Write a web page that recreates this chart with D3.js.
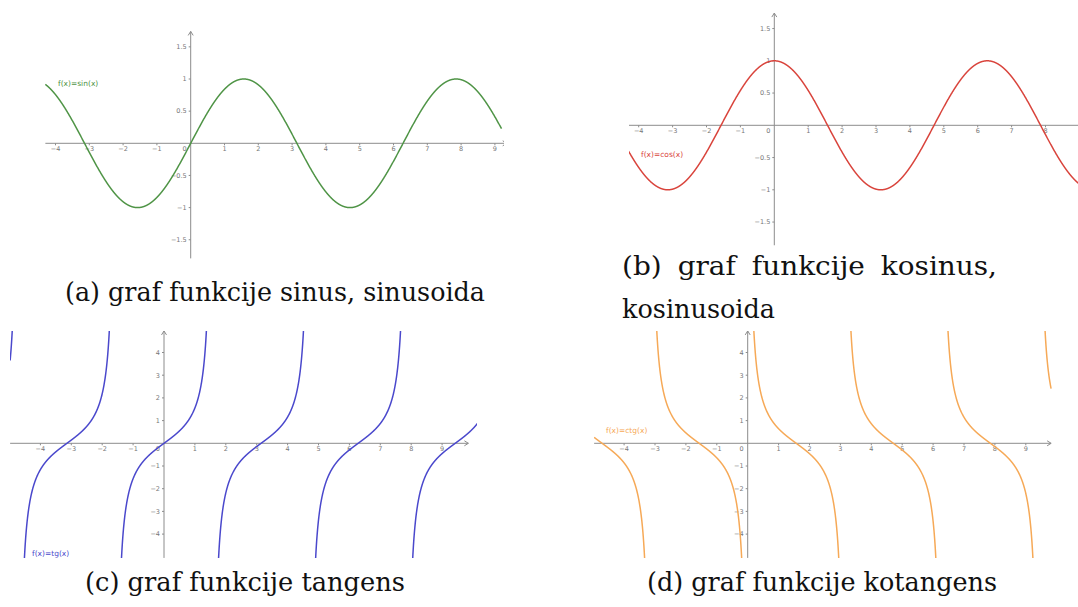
<!DOCTYPE html>
<html>
<head>
<meta charset="utf-8">
<script src="https://cdn.jsdelivr.net/npm/d3@7"></script>
<style>
  body { margin: 0; background: #fff; }
  svg { display: block; }
  .tick-label { font-family: 'DejaVu Sans', sans-serif; font-size: 6.5px; fill: #777; }
  .fn-label { font-family: 'DejaVu Sans', sans-serif; font-size: 7.5px; }
  .caption { font-family: 'DejaVu Serif', serif; font-size: 26px; fill: #111; }
</style>
</head>
<body>
<div id="chart"></div>
<script>
// data
const fnLabels = ['f(x)=sin(x)', 'f(x)=cos(x)', 'f(x)=tg(x)', 'f(x)=ctg(x)']
const fns = [Math.sin, Math.cos, Math.tan, (x) => 1 / Math.tan(x)]
const xTicks = [-4, -3, -2, -1, 1, 2, 3, 4, 5, 6, 7, 8, 9]
const yTicksTrig = [-1.5, -1, -0.5, 0.5, 1, 1.5]
const yTicksTan = [-4, -3, -2, -1, 1, 2, 3, 4]
const colors = ['#4f9446', '#d9443c', '#4a48cc', '#f6a957']

const width = 1078
const height = 607

// layout of each GeoGebra panel (pixel placement only)
const panels = [
  { ox: 190.7, oy: 143.3, ux: 33.8, uy: 64.3, ax: [-4.3, 9.35], ay: [-1.79, 1.74],
    cx: [-4.3, 9.2], clip: [45, 20, 459, 245], yTicks: yTicksTrig, labelPos: [58, 86] },
  { ox: 774.3, oy: 125.3, ux: 33.9, uy: 64.5, ax: [-4.3, 9.2], ay: [-1.86, 1.74],
    cx: [-4.3, 9.2], clip: [629, 0, 449, 250], yTicks: yTicksTrig, labelPos: [641, 157] },
  { ox: 164, oy: 443.3, ux: 30.9, uy: 22.7, ax: [-4.98, 9.85], ay: [-5.05, 4.95],
    cx: [-4.98, 10.15], clip: [10, 331, 467, 227], yTicks: yTicksTan, labelPos: [32, 556] },
  { ox: 747.7, oy: 443.3, ux: 30.9, uy: 22.7, ax: [-4.97, 9.82], ay: [-5.05, 4.95],
    cx: [-4.97, 9.82], clip: [594, 331, 458, 227], yTicks: yTicksTan, labelPos: [606, 433] }
]

const svg = d3.select('#chart')
  .append('svg')
  .attr('width', width)
  .attr('height', height)
  .attr('viewBox', [0, 0, width, height])

const fmt = (v) => (v < 0 ? '\u2212' : '') + Math.abs(v)

function drawPanel(p, i) {
  const x = d3.scaleLinear().domain([0, 1]).range([p.ox, p.ox + p.ux])
  const y = d3.scaleLinear().domain([0, 1]).range([p.oy, p.oy - p.uy])
  const g = svg.append('g')

  g.append('clipPath').attr('id', 'clip' + i)
    .append('rect')
    .attr('x', p.clip[0]).attr('y', p.clip[1])
    .attr('width', p.clip[2]).attr('height', p.clip[3])

  const axes = g.append('g').attr('clip-path', `url(#clip${i})`)
    .attr('stroke', '#8c8c8c').attr('stroke-width', 1).attr('fill', 'none')

  // x axis
  axes.append('line')
    .attr('x1', x(p.ax[0])).attr('x2', x(p.ax[1]))
    .attr('y1', y(0)).attr('y2', y(0))
  axes.append('path')
    .attr('d', `M${x(p.ax[1]) - 4},${y(0) - 2.5}L${x(p.ax[1])},${y(0)}L${x(p.ax[1]) - 4},${y(0) + 2.5}`)
  // y axis
  axes.append('line')
    .attr('x1', x(0)).attr('x2', x(0))
    .attr('y1', y(p.ay[0])).attr('y2', y(p.ay[1]))
  axes.append('path')
    .attr('d', `M${x(0) - 2.5},${y(p.ay[1]) + 4}L${x(0)},${y(p.ay[1])}L${x(0) + 2.5},${y(p.ay[1]) + 4}`)

  // only ticks that fit inside the panel
  const xt = xTicks.filter((d) => x(d) + 5 < p.clip[0] + p.clip[2])

  axes.selectAll('.xt').data(xt).join('line')
    .attr('x1', (d) => x(d)).attr('x2', (d) => x(d))
    .attr('y1', y(0)).attr('y2', y(0) + 2)
  axes.selectAll('.yt').data(p.yTicks).join('line')
    .attr('x1', x(0) - 2).attr('x2', x(0))
    .attr('y1', (d) => y(d)).attr('y2', (d) => y(d))

  const labels = g.append('g')
  labels.selectAll('text.xl').data(xt).join('text')
    .attr('class', 'tick-label')
    .attr('x', (d) => x(d)).attr('y', y(0) + 8)
    .attr('text-anchor', 'middle')
    .text(fmt)
  labels.selectAll('text.yl').data(p.yTicks).join('text')
    .attr('class', 'tick-label')
    .attr('x', x(0) - 4).attr('y', (d) => y(d) + 2.3)
    .attr('text-anchor', 'end')
    .text(fmt)
  labels.append('text')
    .attr('class', 'tick-label')
    .attr('x', x(0) - 4).attr('y', y(0) + 8)
    .attr('text-anchor', 'end')
    .text('0')

  // curve
  const pts = d3.range(p.cx[0], p.cx[1], 0.004).map((v) => [v, fns[i](v)])
  const line = d3.line()
    .defined((d) => Math.abs(d[1]) < 9)
    .x((d) => x(d[0]))
    .y((d) => y(d[1]))
  g.append('path')
    .datum(pts)
    .attr('clip-path', `url(#clip${i})`)
    .attr('fill', 'none')
    .attr('stroke', colors[i])
    .attr('stroke-width', 1.5)
    .attr('d', line)

  g.append('text')
    .attr('class', 'fn-label')
    .attr('x', p.labelPos[0]).attr('y', p.labelPos[1])
    .attr('fill', colors[i])
    .text(fnLabels[i])
}

panels.forEach(drawPanel)

// captions
const captionLines = [
  { t: '(a) graf funkcije sinus, sinusoida', x: 65, y: 301, w: 420 },
  { t: 'kosinusoida', x: 622, y: 318, w: 153 },
  { t: '(c) graf funkcije tangens', x: 85, y: 591, w: 320 },
  { t: '(d) graf funkcije kotangens', x: 647, y: 591, w: 350 }
]
// first line of (b) is justified between two edges
const justifiedWords = ['(b)', 'graf', 'funkcije', 'kosinus,']
const justified = { x0: 622, x1: 997, y: 275, gap: 16 }

const capG = svg.append('g')
capG.selectAll('text.line').data(captionLines).join('text')
  .attr('class', 'caption')
  .attr('x', (d) => d.x).attr('y', (d) => d.y)
  .attr('textLength', (d) => d.w)
  .attr('lengthAdjust', 'spacingAndGlyphs')
  .text((d) => d.t)

const words = capG.selectAll('text.word').data(justifiedWords).join('text')
  .attr('class', 'caption word')
  .attr('y', justified.y)
  .text((d) => d)
const natural = words.nodes().map((n) => n.getComputedTextLength())
const k = (justified.x1 - justified.x0 - justified.gap * (natural.length - 1)) / d3.sum(natural)
const widths = natural.map((w) => w * k)
let cursor = justified.x0
words
  .attr('textLength', (d, i) => widths[i])
  .attr('lengthAdjust', 'spacingAndGlyphs')
  .attr('x', (d, i) => {
    const pos = cursor
    cursor += widths[i] + justified.gap
    return pos
  })
</script>
</body>
</html>
